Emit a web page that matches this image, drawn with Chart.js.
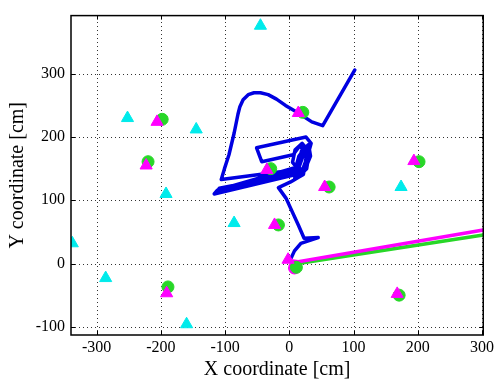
<!DOCTYPE html>
<html>
<head>
<meta charset="UTF-8">
<title>Trajectory</title>
<script src="https://cdn.jsdelivr.net/npm/chart.js"></script>
<style>
  body { margin: 0; background: #fff; }
</style>
</head>
<body>
<canvas id="grafico" width="497" height="383"></canvas>
<script>
// tick labels
const xTicks = [-300, -200, -100, 0, 100, 200, 300]
const yTicks = [-100, 0, 100, 200, 300]

// blue trajectory (cm)
const pathX = [3, 8, 18, 45, 23, 14, -5, -17, 2, 17, 29, 34, 26, -51, -43,
  6, 17, 23, 14, 5, 9, 20, 28, 22, 8, 12, 19, 30, 33, 25, 18, 10, 15, 24, 31, 27, 20,
  -117, -112, 14, 17, -109, -113, 10, 22, -106, -101, -94, -86, -80, -77, -72, -64, -55, -45, -33, -20, -6, 14, 35, 52, 102]
const pathY = [9, 20, 32, 41, 40, 61, 103, 120, 129, 138, 172, 190, 200, 183, 161,
  172, 187, 175, 149, 160, 180, 190, 180, 141, 133, 150, 178, 188, 170, 150, 140, 152, 170, 182, 176, 150, 143,
  110, 116, 153, 144, 119, 113, 146, 150, 133, 150, 172, 206, 236, 248, 259, 267, 270, 270, 267, 260, 250, 238, 224, 218, 306]

// green and magenta tracks
const greenLineX = [8, 14, 302]
const greenLineY = [-5, 0, 45]
const magLineX = [-1, 14, 302]
const magLineY = [5, 3, 53]

// cyan triangles
const cyanX = [-45, -252, -145, -192, -86, -338, -286, -160, 174]
const cyanY = [376, 230, 212, 110, 64, 32, -23, -96, 121]

// green circles
const greenX = [-198, -220, -29, 21, 202, 62, -17, 171, -189, 11]
const greenY = [228, 161, 150, 239, 161, 121, 61, -50, -37, -6]

// magenta triangles
const magX = [-206, -223, -35, 14, 194, 55, -23, 168, -191, -2]
const magY = [224, 155, 148, 238, 162, 121, 61, -48, -47, 6]

// magenta ring at start
const ringX = [8]
const ringY = [-7]

const pts = (xs, ys) => xs.map((x, i) => ({ x: x, y: ys[i] }))

const serif = "'Liberation Serif', 'DejaVu Serif', serif"

// dotted grid under the data
const grade = {
  id: 'grade',
  beforeDatasetsDraw(chart) {
    const c = chart.ctx
    const a = chart.chartArea
    const sx = chart.scales.x
    const sy = chart.scales.y
    c.save()
    c.strokeStyle = 'rgba(0,0,0,0.8)'
    c.lineWidth = 1
    c.setLineDash([1, 3])
    c.beginPath()
    xTicks.forEach(v => {
      const p = Math.round(sx.getPixelForValue(v)) + 0.5
      c.moveTo(p, a.bottom); c.lineTo(p, a.top)
    })
    yTicks.forEach(v => {
      const p = Math.round(sy.getPixelForValue(v)) + 0.5
      c.moveTo(a.left, p); c.lineTo(a.right, p)
    })
    c.stroke()
    c.restore()
  }
}

// frame + inner ticks like matlab
const moldura = {
  id: 'moldura',
  afterDraw(chart) {
    const c = chart.ctx
    const a = chart.chartArea
    const sx = chart.scales.x
    const sy = chart.scales.y
    c.save()
    c.strokeStyle = '#000'
    c.lineWidth = 1
    c.beginPath()
    xTicks.forEach(v => {
      const p = Math.round(sx.getPixelForValue(v)) + 0.5
      c.moveTo(p, a.bottom); c.lineTo(p, a.bottom - 4)
      c.moveTo(p, a.top); c.lineTo(p, a.top + 4)
    })
    yTicks.forEach(v => {
      const p = Math.round(sy.getPixelForValue(v)) + 0.5
      c.moveTo(a.left, p); c.lineTo(a.left + 4, p)
      c.moveTo(a.right, p); c.lineTo(a.right - 4, p)
    })
    c.stroke()
    c.lineWidth = 1.5
    c.strokeRect(a.left, a.top, a.right - a.left, a.bottom - a.top)
    c.restore()
  }
}

new Chart(document.getElementById('grafico'), {
  type: 'scatter',
  data: {
    datasets: [
      { data: pts(magX, magY), pointStyle: 'triangle', pointRadius: 7, backgroundColor: 'rgb(255,0,255)', borderColor: 'rgb(255,0,255)', borderWidth: 1 },
      { data: pts(greenX, greenY), pointStyle: 'circle', pointRadius: 6, backgroundColor: 'rgb(40,215,40)', borderColor: 'rgb(40,215,40)', borderWidth: 1 },
      { data: pts(cyanX, cyanY), pointStyle: 'triangle', pointRadius: 7, backgroundColor: 'rgb(0,235,235)', borderColor: 'rgb(0,235,235)', borderWidth: 1 },
      { data: pts(ringX, ringY), pointStyle: 'circle', pointRadius: 5, backgroundColor: '#fff', borderColor: 'rgb(255,0,255)', borderWidth: 3 },
      { data: pts(magLineX, magLineY), showLine: true, pointRadius: 0, borderColor: 'rgb(255,0,255)', borderWidth: 3.5 },
      { data: pts(greenLineX, greenLineY), showLine: true, pointRadius: 0, borderColor: 'rgb(40,215,40)', borderWidth: 3.5 },
      { data: pts(pathX, pathY), showLine: true, pointRadius: 0, borderColor: 'rgb(0,0,225)', borderWidth: 3.5, borderJoinStyle: 'round', borderCapStyle: 'round' }
    ]
  },
  options: {
    responsive: false,
    animation: false,
    layout: { padding: { top: 7, right: 10, left: 0, bottom: 0 } },
    plugins: { legend: { display: false }, tooltip: { enabled: false } },
    scales: {
      x: {
        min: -340, max: 302,
        afterBuildTicks: s => { s.ticks = xTicks.map(v => ({ value: v })) },
        afterFit: s => { s.height = 48 },
        grid: { display: false, drawTicks: false },
        border: { display: false },
        ticks: { color: '#000', padding: 3, maxRotation: 0, font: { family: serif, size: 16 } },
        title: { display: true, text: 'X coordinate [cm]', color: '#000', padding: { top: 0, bottom: 1 }, font: { family: serif, size: 20 } }
      },
      y: {
        min: -113, max: 392,
        afterBuildTicks: s => { s.ticks = yTicks.map(v => ({ value: v })) },
        afterFit: s => { s.width = 71 },
        grid: { display: false, drawTicks: false },
        border: { display: false },
        ticks: { color: '#000', padding: 6, font: { family: serif, size: 16 } },
        title: { display: true, text: 'Y coordinate [cm]', color: '#000', padding: { top: 6, bottom: 0 }, font: { family: serif, size: 20 } }
      }
    }
  },
  plugins: [grade, moldura]
})
</script>
</body>
</html>
